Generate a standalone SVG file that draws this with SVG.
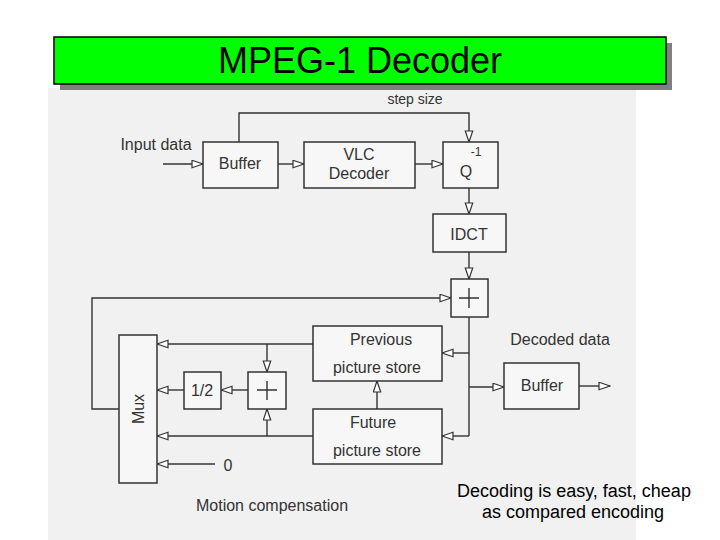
<svg xmlns="http://www.w3.org/2000/svg" width="720" height="540" viewBox="0 0 720 540">
<defs>
<marker id="arr" markerUnits="userSpaceOnUse" markerWidth="13" markerHeight="10" refX="12" refY="4.5" orient="auto">
<path d="M1,0.8 L12,4.5 L1,8.2 z" fill="#ffffff" stroke="#333" stroke-width="1.2"/>
</marker>
</defs>
<style>
.box{fill:#f7f7f7;stroke:#333;stroke-width:1.5}
.ln{fill:none;stroke:#333;stroke-width:1.4}
.lna{fill:none;stroke:#333;stroke-width:1.4;marker-end:url(#arr)}
.t{font-family:"Liberation Sans",Arial,sans-serif;font-size:16px;fill:#333;text-anchor:middle}
.tb{font-family:"Liberation Sans",Arial,sans-serif;font-size:18px;fill:#000;text-anchor:middle}
</style>
<rect x="0" y="0" width="720" height="540" fill="#ffffff"/>
<rect x="48" y="88" width="588" height="452" fill="#f1f1f1"/>
<g id="title">
<rect x="60" y="43" width="612" height="47" fill="#808080"/>
<rect x="54" y="37" width="612" height="47" fill="#00ff00" stroke="#000" stroke-width="1.5"/>
<text x="360" y="73" font-family="'Liberation Sans',Arial,sans-serif" font-size="36" fill="#000" text-anchor="middle">MPEG-1 Decoder</text>
</g>
<g id="connectors">
<path class="lna" d="M163,164 H203"/>
<path class="lna" d="M278,164 H304"/>
<path class="lna" d="M415,164 H443"/>
<path class="lna" d="M239,142 V113 H469 V142"/>
<path class="lna" d="M469,188 V214"/>
<path class="lna" d="M469,252 V279"/>
<path class="ln" d="M469,317 V436"/>
<path class="lna" d="M469,353 H442"/>
<path class="lna" d="M469,387 H504"/>
<path class="lna" d="M469,436 H442"/>
<path class="lna" d="M579,386 H610"/>
<path class="lna" d="M377,409 V381"/>
<path class="lna" d="M313,344 H157"/>
<path class="lna" d="M267,344 V372"/>
<path class="lna" d="M313,436 H157"/>
<path class="lna" d="M267,436 V409"/>
<path class="lna" d="M248,390 H221"/>
<path class="lna" d="M184,390 H157"/>
<path class="lna" d="M215,464 H157"/>
<path class="lna" d="M119,409 H92 V298 H451"/>
</g>
<g id="input-label"><text class="t" x="156" y="150">Input data</text></g>
<g id="stepsize-label"><text class="t" x="415" y="104" style="font-size:14px">step size</text></g>
<g id="buffer-in">
<rect class="box" x="203" y="142" width="75" height="46"/>
<text class="t" x="240" y="169">Buffer</text>
</g>
<g id="vlc">
<rect class="box" x="304" y="142" width="111" height="46"/>
<text class="t" x="359" y="160">VLC</text>
<text class="t" x="359" y="179">Decoder</text>
</g>
<g id="q">
<rect class="box" x="443" y="142" width="55" height="46"/>
<text class="t" x="476" y="156" style="font-size:12px">-1</text>
<text class="t" x="466" y="177">Q</text>
</g>
<g id="idct">
<rect class="box" x="433" y="214" width="73" height="38"/>
<text class="t" x="469" y="240">IDCT</text>
</g>
<g id="adder">
<rect class="box" x="451" y="279" width="37" height="38"/>
<path class="ln" d="M469,288 V308 M459,298 H479"/>
</g>
<g id="previous">
<rect class="box" x="313" y="326" width="129" height="55"/>
<text class="t" x="381" y="345">Previous</text>
<text class="t" x="377" y="373">picture store</text>
</g>
<g id="future">
<rect class="box" x="313" y="409" width="129" height="55"/>
<text class="t" x="373" y="428">Future</text>
<text class="t" x="377" y="456">picture store</text>
</g>
<g id="decoded-label"><text class="t" x="560" y="345">Decoded data</text></g>
<g id="buffer-out">
<rect class="box" x="504" y="363" width="75" height="46"/>
<text class="t" x="542" y="391">Buffer</text>
</g>
<g id="half">
<rect class="box" x="184" y="372" width="37" height="37"/>
<text class="t" x="202" y="396">1/2</text>
</g>
<g id="adder2">
<rect class="box" x="248" y="372" width="38" height="37"/>
<path class="ln" d="M267,381 V400 M257,390 H277"/>
</g>
<g id="mux">
<rect class="box" x="119" y="335" width="38" height="148"/>
<text class="t" x="0" y="0" transform="translate(144,409) rotate(-90)">Mux</text>
</g>
<g id="zero"><text class="t" x="228" y="471">0</text></g>
<g id="mc-label"><text class="t" x="272" y="511">Motion compensation</text></g>
<g id="note">
<text class="tb" x="574" y="497">Decoding is easy, fast, cheap</text>
<text class="tb" x="573" y="518">as compared encoding</text>
</g>
</svg>
